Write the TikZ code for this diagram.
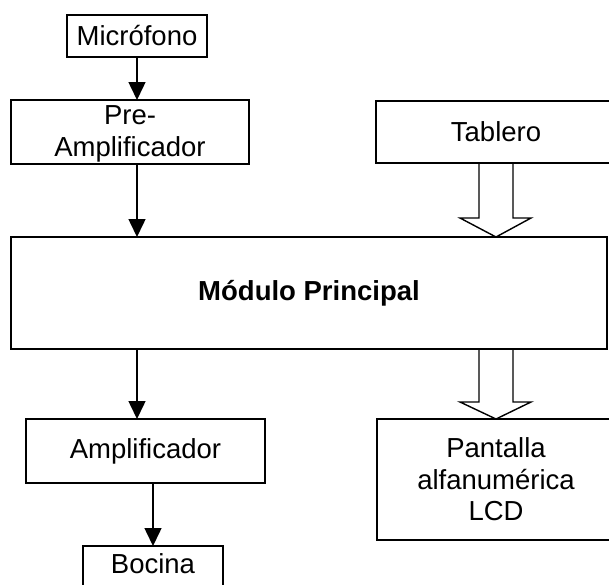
\documentclass[tikz,border=0pt]{standalone}
\usepackage{fontspec}
\setmainfont{Liberation Sans}
\usetikzlibrary{arrows.meta}

\tikzset{
  box/.style={draw=black, line width=1.4pt, fill=white, inner sep=0pt, outer sep=0pt,
    align=center, font=\fontsize{27.5}{31.5}\selectfont},
  txt/.style={inner sep=0pt, align=center, font=\fontsize{27.5}{31.5}\selectfont},
  flow/.style={line width=1.5pt, -{Triangle[length=18pt,width=17pt]}},
  hollow/.style={draw=black, line width=1.4pt, line join=miter},
}

\begin{document}
\begin{tikzpicture}[x=1pt, y=-1pt]
  \useasboundingbox (0,0) rectangle (609,584);
  \fill[white] (0,0) rectangle (609,584);
  \clip (0,0) rectangle (609,584);

  % blocks
  \node[box, minimum width=140, minimum height=42] (mic) at (137,36) {Micrófono};
  \node[box, minimum width=238, minimum height=64,
        label={[txt, yshift=-2pt]center:Pre-\\Amplificador}] (pre) at (130,132) {};
  \node[box, minimum width=240, minimum height=62] (tab) at (496,132) {Tablero};
  \node[box, minimum width=596, minimum height=112, font=\fontsize{27.5}{31.5}\selectfont\bfseries] (main) at (309,293) {Módulo Principal};
  \node[box, minimum width=239, minimum height=64] (amp) at (145.5,451) {Amplificador};
  \node[box, minimum width=238, minimum height=121] (pan) at (496,479.5) {Pantalla\\alfanumérica\\LCD};
  \node[box, minimum width=140, minimum height=48,
        label={[txt, yshift=6pt]center:Bocina}] (boc) at (153,570) {};

  % signal path
  \draw[flow] (mic.south) -- (mic.south |- pre.north);
  \draw[flow] (mic.south |- pre.south) -- (mic.south |- main.north);
  \draw[flow] (mic.south |- main.south) -- (mic.south |- amp.north);
  \draw[flow] (boc.north |- amp.south) -- (boc.north);

  % bus arrows
  \coordinate (t1) at (tab.south |- main.north);
  \draw[hollow] ([xshift=-17pt]tab.south) -- ([xshift=-17pt,yshift=19pt]t1)
    -- ([xshift=-36pt,yshift=19pt]t1) -- (t1) -- ([xshift=35pt,yshift=19pt]t1)
    -- ([xshift=17pt,yshift=19pt]t1) -- ([xshift=17pt]tab.south);
  \coordinate (t2) at (main.south -| pan.north);
  \draw[hollow] ([xshift=-17pt]t2) -- ([xshift=-17pt,yshift=17pt]pan.north)
    -- ([xshift=-36pt,yshift=17pt]pan.north) -- (pan.north) -- ([xshift=35pt,yshift=17pt]pan.north)
    -- ([xshift=17pt,yshift=17pt]pan.north) -- ([xshift=17pt]t2);
\end{tikzpicture}
\end{document}
